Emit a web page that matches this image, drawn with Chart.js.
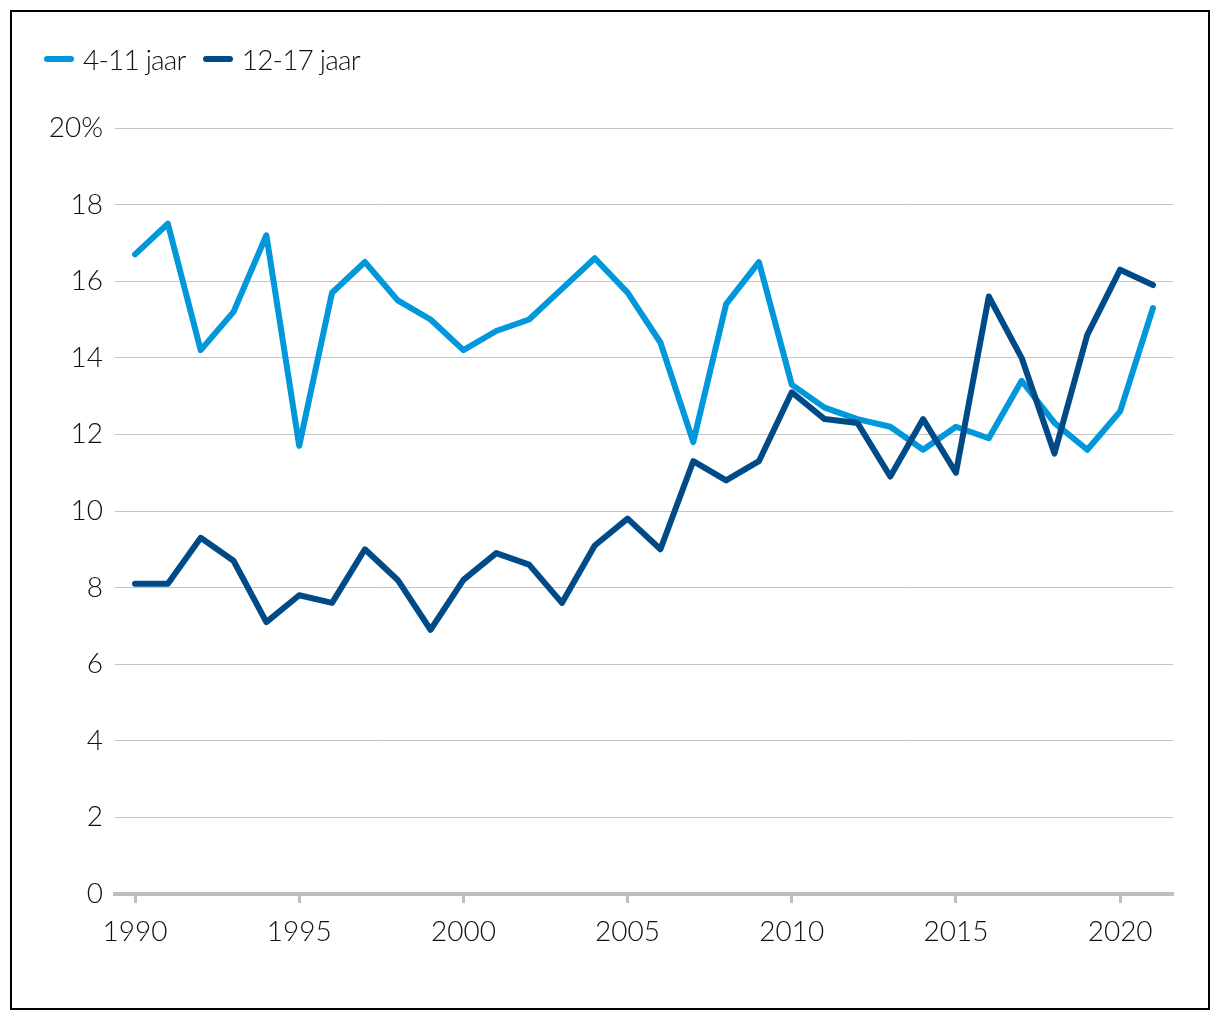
<!DOCTYPE html>
<html>
<head>
<meta charset="utf-8">
<script src="https://cdn.jsdelivr.net/npm/chart.js@4.4.1/dist/chart.umd.min.js"></script>
<style>
  html, body { margin: 0; padding: 0; background: #fff; }
  #frame { position: absolute; left: 10px; top: 10px; width: 1196px; height: 996px; border: 2px solid #000; background: #fff; }
  #chart { position: absolute; left: 0; top: 0; }
  #legend { position: absolute; left: 32px; top: 30px; display: flex; align-items: center; font-family: Lato, sans-serif; font-weight: 300; font-size: 28px; letter-spacing: -0.8px; color: #111; }
  .item { display: flex; align-items: center; margin-right: 17px; }
  .swatch { width: 30px; height: 6px; border-radius: 3px; margin-right: 9px; }
</style>
</head>
<body>
<div id="frame">
  <canvas id="chart" width="1196" height="996"></canvas>
  <div id="legend"></div>
</div>
<script>
const years = [1990,1991,1992,1993,1994,1995,1996,1997,1998,1999,2000,2001,2002,2003,2004,2005,2006,2007,2008,2009,2010,2011,2012,2013,2014,2015,2016,2017,2018,2019,2020,2021];
const kids4to11 = [16.7,17.5,14.2,15.2,17.2,11.7,15.7,16.5,15.5,15.0,14.2,14.7,15.0,15.8,16.6,15.7,14.4,11.8,15.4,16.5,13.3,12.7,12.4,12.2,11.6,12.2,11.9,13.4,12.3,11.6,12.6,15.3];
const teens12to17 = [8.1,8.1,9.3,8.7,7.1,7.8,7.6,9.0,8.2,6.9,8.2,8.9,8.6,7.6,9.1,9.8,9.0,11.3,10.8,11.3,13.1,12.4,12.3,10.9,12.4,11.0,15.6,14.0,11.5,14.6,16.3,15.9];
const seriesNames = ['4-11 jaar', '12-17 jaar'];
const xTicks = [1990,1995,2000,2005,2010,2015,2020];
const yTicks = [0,2,4,6,8,10,12,14,16,18,20];

const colLight = '#0098da';
const colDark = '#004b87';

const legend = document.getElementById('legend');
[[seriesNames[0], colLight],[seriesNames[1], colDark]].forEach(([n,c]) => {
  const it = document.createElement('div'); it.className = 'item';
  const sw = document.createElement('div'); sw.className = 'swatch'; sw.style.background = c;
  const tx = document.createElement('span'); tx.textContent = n;
  it.appendChild(sw); it.appendChild(tx); legend.appendChild(it);
});

const toXY = arr => arr.map((v,i) => ({x: years[i], y: v}));
const font = { family: 'Lato, sans-serif', size: 28, weight: '300' };

new Chart(document.getElementById('chart'), {
  type: 'line',
  data: {
    datasets: [
      { label: seriesNames[0], data: toXY(kids4to11), borderColor: colLight, backgroundColor: colLight, borderWidth: 6, pointRadius: 0, tension: 0, borderCapStyle: 'round', borderJoinStyle: 'round', order: 1 },
      { label: seriesNames[1], data: toXY(teens12to17), borderColor: colDark, backgroundColor: colDark, borderWidth: 6, pointRadius: 0, tension: 0, borderCapStyle: 'round', borderJoinStyle: 'round', order: 0 }
    ]
  },
  options: {
    responsive: false,
    animation: false,
    layout: { padding: { left: 0, right: 35, top: 116, bottom: 0 } },
    plugins: { legend: { display: false }, tooltip: { enabled: false } },
    scales: {
      x: {
        type: 'linear',
        min: 1989.39, max: 2021.61,
        afterBuildTicks: s => { s.ticks = xTicks.map(v => ({ value: v })); },
        afterFit: s => { s.height = 114; },
        grid: { drawOnChartArea: false, drawTicks: true, tickLength: 9, tickColor: '#bfbfbf', tickWidth: 3 },
        border: { display: true, color: '#bfbfbf', width: 4 },
        ticks: { color: '#111', font: font, padding: 12, maxRotation: 0, autoSkip: false, callback: v => String(v) }
      },
      y: {
        min: 0, max: 20,
        afterBuildTicks: s => { s.ticks = yTicks.map(v => ({ value: v })); },
        afterFit: s => { s.width = 103; },
        grid: { color: '#c4c4c4', lineWidth: 1, drawTicks: false },
        border: { display: false },
        ticks: { color: '#111', font: font, padding: 12, callback: v => v === 20 ? '20%' : String(v) }
      }
    }
  }
});
</script>
</body>
</html>
